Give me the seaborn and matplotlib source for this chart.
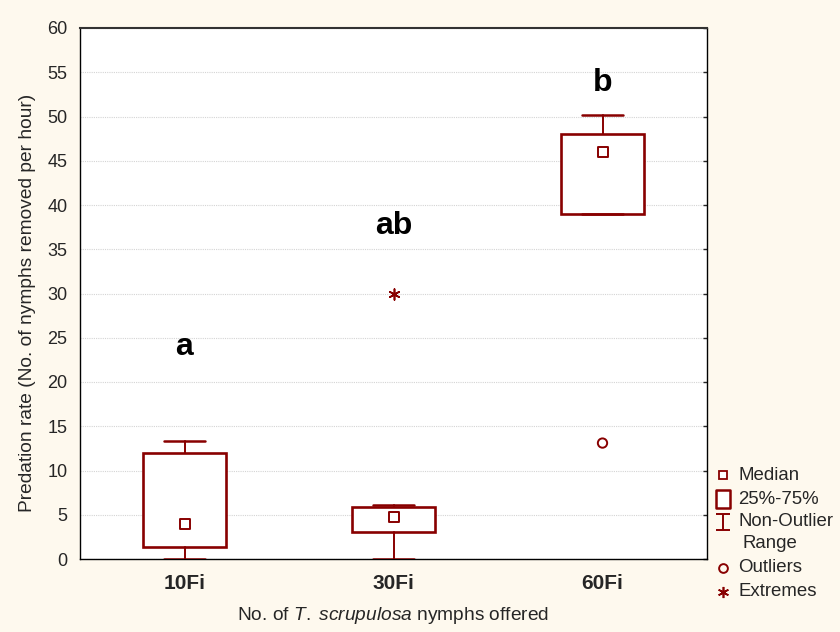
import numpy as np
import pandas as pd
import matplotlib
matplotlib.use("Agg")
import matplotlib.pyplot as plt
from matplotlib.path import Path
from matplotlib.lines import Line2D
import seaborn as sns

# Summary statistics per density treatment
groups = ["10Fi", "30Fi", "60Fi"]
medians = [4.0, 4.8, 46.0]
q1 = [1.4, 3.1, 39.0]
q3 = [12.0, 5.9, 48.0]
whisker_low = [0.0, 0.0, 39.0]
whisker_high = [13.3, 6.05, 50.2]
outlier_group = ["60Fi"]
outlier_value = [13.1]
extreme_group = ["30Fi"]
extreme_value = [30.0]
letters = ["a", "ab", "b"]
letter_y = [24.0, 37.6, 53.8]

maroon = "#880000"
cream = "#FEF9EE"

sns.set_theme(style="white")
plt.rcParams["font.family"] = ["Liberation Sans", "DejaVu Sans"]
plt.rcParams["mathtext.fontset"] = "custom"
plt.rcParams["mathtext.rm"] = "Liberation Sans"
plt.rcParams["mathtext.it"] = "Liberation Sans:italic"

W, H = 840, 632
fig = plt.figure(figsize=(W / 100, H / 100), dpi=100, facecolor=cream)
ax = fig.add_axes([80 / W, 1 - 559 / H, 627 / W, 531 / H])
ax.set_facecolor("white")

pos = {g: i for i, g in enumerate(groups)}

stats = []
for g, m, a, b, lo, hi in zip(groups, medians, q1, q3, whisker_low, whisker_high):
    stats.append(dict(label=g, med=m, q1=a, q3=b, whislo=lo, whishi=hi, fliers=[]))

ax.bxp(stats, positions=list(range(len(groups))), widths=0.4, capwidths=0.2,
       showfliers=False, patch_artist=True,
       boxprops=dict(facecolor="white", edgecolor=maroon, linewidth=1.9),
       whiskerprops=dict(color=maroon, linewidth=1.4),
       capprops=dict(color=maroon, linewidth=1.8),
       medianprops=dict(visible=False), manage_ticks=False, zorder=3)

med_df = pd.DataFrame({"x": [pos[g] for g in groups], "y": medians})
sns.scatterplot(data=med_df, x="x", y="y", marker="s", s=60, facecolor="white",
                edgecolor=maroon, linewidth=1.4, ax=ax, zorder=4)

out_df = pd.DataFrame({"x": [pos[g] for g in outlier_group], "y": outlier_value})
sns.scatterplot(data=out_df, x="x", y="y", marker="o", s=45, facecolor="none",
                edgecolor=maroon, linewidth=1.4, ax=ax, zorder=4)

ext_df = pd.DataFrame({"x": [pos[g] for g in extreme_group], "y": extreme_value})
sns.scatterplot(data=ext_df, x="x", y="y", marker=(6, 2, 0), s=60, color=maroon,
                edgecolor=maroon, linewidth=1.2, ax=ax, zorder=4)

for g, t, y in zip(groups, letters, letter_y):
    ax.text(pos[g], y, t, ha="center", va="center", fontsize=23, fontweight="bold",
            color="black")

ax.set_xlim(-0.5, 2.5)
ax.set_ylim(0, 60)
ax.set_yticks(np.arange(0, 61, 5))
ax.set_xticks(range(len(groups)))
ax.set_xticklabels(groups, fontsize=15, fontweight="bold")
ax.tick_params(axis="y", labelsize=13, length=3, width=1, direction="in",
               left=False, right=True, pad=9)
ax.tick_params(axis="x", length=0, pad=11)
ax.yaxis.grid(True, linestyle=(0, (1, 1)), color="#d4d4d4", linewidth=0.8)
ax.set_axisbelow(True)
for s in ax.spines.values():
    s.set_color("black")
    s.set_linewidth(1.0)
ax.spines["top"].set_color("#333333")
ax.spines["top"].set_linewidth(1.5)

ax.set_ylabel("Predation rate (No. of nymphs removed per hour)", fontsize=13.8)
ax.yaxis.set_label_coords(-(80 - 28) / 627, (559 - 303) / 531)
ax.set_xlabel(r"No. of $\mathit{T.}$ $\mathit{scrupulosa}$ nymphs offered", fontsize=13.8)
ax.xaxis.set_label_coords(0.5, -(615 - 559) / 531)
ax.xaxis.label.set_va("center")
ax.yaxis.label.set_va("center")

# Key explaining the box elements, placed to the right of the plot frame
box_key = Path([(-0.39, -0.5), (0.39, -0.5), (0.39, 0.5), (-0.39, 0.5), (-0.39, -0.5)],
               [Path.MOVETO, Path.LINETO, Path.LINETO, Path.LINETO, Path.CLOSEPOLY])
ibeam = Path([(-0.44, 0.5), (0.44, 0.5), (0, 0.5), (0, -0.5), (-0.44, -0.5), (0.44, -0.5)],
             [Path.MOVETO, Path.LINETO, Path.MOVETO, Path.LINETO, Path.MOVETO, Path.LINETO])
key_marker_x = 723
key_text_x = 738
key_items = [
    (475, dict(marker="s", ms=6.3, mfc="white", mec=maroon, mew=1.3), "Median"),
    (499, dict(marker=box_key, ms=12.5, mfc="white", mec=maroon, mew=1.8), "25%-75%"),
    (522, dict(marker=ibeam, ms=11.5, mfc="none", mec=maroon, mew=1.4), "Non-Outlier"),
    (568, dict(marker="o", ms=6.3, mfc="none", mec=maroon, mew=1.4), "Outliers"),
    (592, dict(marker=(6, 2, 0), ms=8, mfc=maroon, mec=maroon, mew=1.2), "Extremes"),
]
for py, mk, label in key_items:
    fy = 1 - py / H
    fig.add_artist(Line2D([key_marker_x / W], [fy], transform=fig.transFigure,
                          ls="none", **mk))
    fig.text(key_text_x / W, fy, label, ha="left", va="center", fontsize=13.4)
fig.text(742 / W, 1 - 544 / H, "Range", ha="left", va="center", fontsize=13.4)

fig.savefig("out.png", dpi=100, facecolor=cream)
